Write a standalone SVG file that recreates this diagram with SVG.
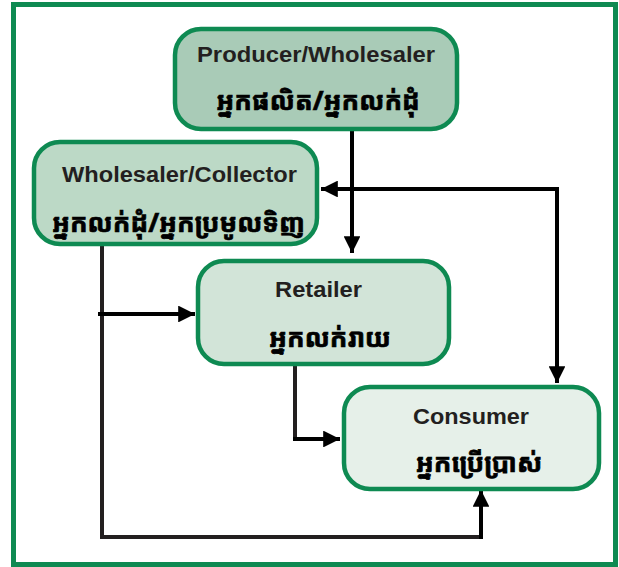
<svg xmlns="http://www.w3.org/2000/svg" width="619" height="567" viewBox="0 0 619 567">
  <defs>
    <style>
      .box { stroke: #0e8a52; stroke-width: 4.5; }
      .en { font-family: "Liberation Sans", Arial, sans-serif; font-weight: bold; font-size: 22.5px; fill: #231f20; text-anchor: middle; }
      .km { font-family: "Khmer OS Muol Light", "Khmer OS", "Noto Sans Khmer", "Noto Serif Khmer", "Khmer", sans-serif; font-weight: bold; font-size: 26px; fill: #000; stroke: #000; stroke-width: 0.7; text-anchor: middle; }
      .ln { fill: none; stroke: #231f20; stroke-width: 4; }
      .ar { fill: none; stroke: #000; stroke-width: 4; marker-end: url(#ah); }
    </style>
    <marker id="ah" viewBox="0 0 10 10" refX="10" refY="5" markerWidth="4.2" markerHeight="4.2" markerUnits="strokeWidth" orient="auto">
      <path d="M0,0 L10,5 L0,10 z" fill="#000"/>
    </marker>
  </defs>
  <rect x="0" y="0" width="619" height="567" fill="#fff"/>
  <rect x="13.5" y="4.5" width="602" height="560" fill="none" stroke="#0e8a52" stroke-width="5"/>

  <g id="connectors">
    <path class="ar" d="M352,130 V253"/>
    <path class="ar" d="M557,189 H321"/>
    <path class="ar" d="M557,187 V383"/>
    <path class="ln" d="M102,245 V537 H481"/>
    <path class="ar" d="M98,314 H195"/>
    <path class="ar" d="M481,539 V490"/>
    <path class="ln" d="M295,365 V439"/>
    <path class="ar" d="M293,439 H340"/>
  </g>

  <g id="producer">
    <rect class="box" x="175" y="29" width="282" height="100" rx="26" fill="#a9cbb7"/>
    <text class="en" x="316" y="62" textLength="238" lengthAdjust="spacingAndGlyphs">Producer/Wholesaler</text>
    <text class="km" x="318" y="110">អ្នកផលិត/អ្នកលក់ដុំ</text>
  </g>

  <g id="wholesaler">
    <rect class="box" x="34" y="142" width="283" height="102" rx="26" fill="#bcd9c6"/>
    <text class="en" x="179.5" y="182" textLength="235" lengthAdjust="spacingAndGlyphs">Wholesaler/Collector</text>
    <text class="km" x="178.5" y="232">អ្នកលក់ដុំ/អ្នកប្រមូលទិញ</text>
  </g>

  <g id="retailer">
    <rect class="box" x="198" y="261" width="251" height="103" rx="26" fill="#d2e4d8"/>
    <text class="en" x="318.5" y="297" textLength="87" lengthAdjust="spacingAndGlyphs">Retailer</text>
    <text class="km" x="330" y="347">អ្នកលក់រាយ</text>
  </g>

  <g id="consumer">
    <rect class="box" x="344" y="387" width="255" height="102" rx="26" fill="#e6f0e9"/>
    <text class="en" x="471" y="424" textLength="116" lengthAdjust="spacingAndGlyphs">Consumer</text>
    <text class="km" x="479" y="472">អ្នកប្រើប្រាស់</text>
  </g>
</svg>
